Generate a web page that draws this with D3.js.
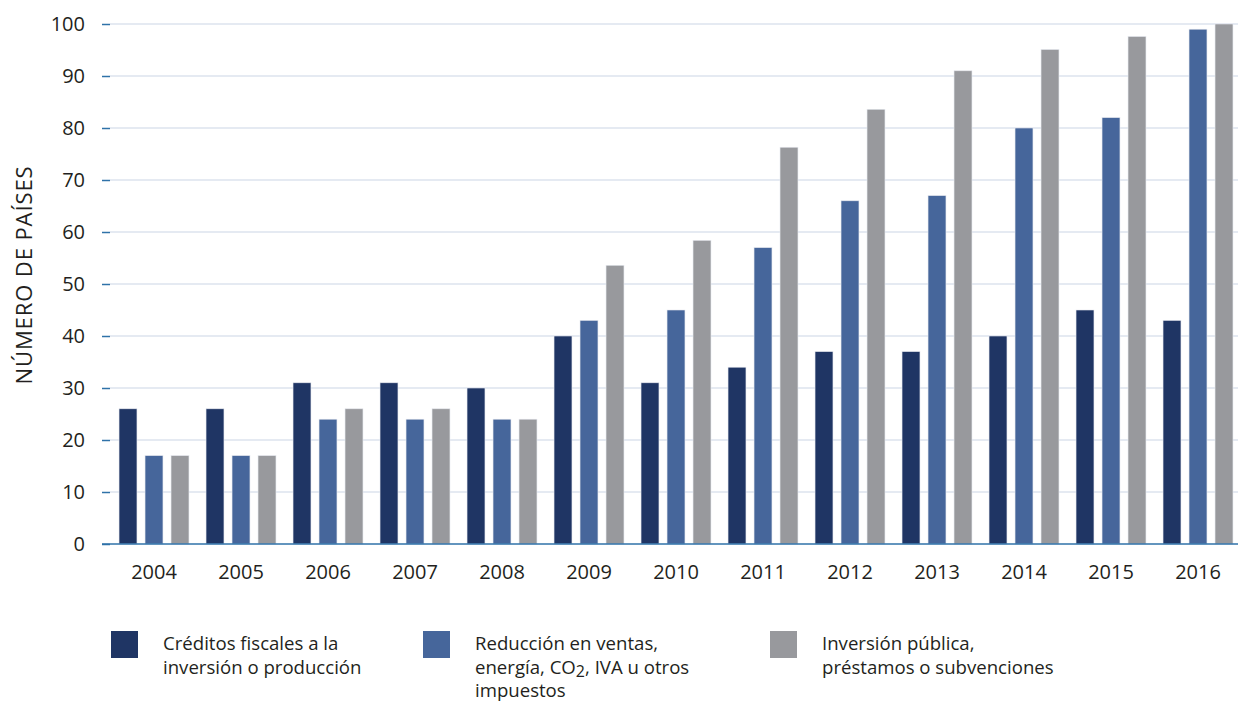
<!DOCTYPE html>
<html><head><meta charset="utf-8">
<script src="https://cdn.jsdelivr.net/npm/d3@7"></script>
<style>body{margin:0;background:#fff;} text{font-family:"Open Sans","Noto Sans",sans-serif;fill:#231f20;}</style>
</head><body><svg id="c" width="1238" height="704"></svg>
<script>
const years = ["2004","2005","2006","2007","2008","2009","2010","2011","2012","2013","2014","2015","2016"];
const creditos = [26,26,31,31,30,40,31,34,37,37,40,45,43];
const reduccion = [17,17,24,24,24,43,45,57,66,67,80,82,99];
const inversion = [17,17,26,26,24,53.6,58.4,76.3,83.6,91,95.1,97.6,100];
const yTicks = [0,10,20,30,40,50,60,70,80,90,100];
const seriesNames = ["Créditos fiscales a la inversión o producción","Reducción en ventas, energía, CO2, IVA u otros impuestos","Inversión pública, préstamos o subvenciones"];
const colors = ["#1f3564","#46669b","#98999d"];

const series = [creditos, reduccion, inversion];
const svg = d3.select("#c");
const x = d3.scaleBand().domain(years).range([110.5,1241.5]).padding(0);
const xs = d3.scaleBand().domain([0,1,2]).range([4.5,82.5]).paddingInner(0.31).paddingOuter(0.155);
const y = d3.scaleLinear().domain([0,100]).range([544,24]);

// gridlines
svg.append("g").selectAll("line").data(yTicks.filter(d=>d>0)).join("line")
  .attr("x1",110).attr("x2",1238).attr("y1",d=>y(d)).attr("y2",d=>y(d))
  .attr("stroke","#dde3ee").attr("stroke-width",1.3);

// y axis
const ya = svg.append("g").attr("transform","translate(110,0)")
  .call(d3.axisLeft(y).tickValues(yTicks).tickSize(8).tickPadding(17));
ya.select(".domain").remove();
ya.selectAll(".tick line").attr("stroke","#2f72a8").attr("stroke-width",1.5);
ya.selectAll(".tick text").attr("font-size",20).style("fill","#231f20");

// bars
const groups = svg.append("g").selectAll("g").data(years).join("g")
  .attr("transform",d=>`translate(${x(d)},0)`);
groups.selectAll("rect").data((d,i)=>series.map((s,k)=>({k,v:s[i]}))).join("rect")
  .attr("x",d=>xs(d.k)).attr("width",xs.bandwidth())
  .attr("y",d=>y(d.v)).attr("height",d=>y(0)-y(d.v))
  .attr("fill",d=>colors[d.k]).attr("stroke","#e6e8ee").attr("stroke-width",0.6);

// x axis
const xa = svg.append("g").attr("transform","translate(0,544)")
  .call(d3.axisBottom(x).tickSize(0).tickPadding(21));
xa.select(".domain").attr("stroke","#2f72a8").attr("stroke-width",1.5).attr("d","M102,0H1238");
xa.selectAll(".tick text").attr("font-size",20).style("fill","#231f20");

// y title
svg.append("text").attr("transform","translate(32,275) rotate(-90)")
  .attr("text-anchor","middle").attr("font-size",22).attr("letter-spacing",0.9)
  .text("NÚMERO DE PAÍSES");

// legend
const legX = [111,423,770];
const legLines = [
  [["Créditos fiscales a la"],["inversión o producción"]],
  [["Reducción en ventas,"],["energía, CO","2",", IVA u otros"],["impuestos"]],
  [["Inversión pública,"],["préstamos o subvenciones"]]
];
const leg = svg.append("g");
legX.forEach((lx,i)=>{
  leg.append("rect").attr("x",lx).attr("y",631).attr("width",27).attr("height",27).attr("fill",colors[i]);
  const t = leg.append("text").attr("x",lx+52).attr("y",650).attr("font-size",18.6);
  legLines[i].forEach((parts,j)=>{
    t.append("tspan").attr("x",lx+52).attr("y",650+j*23.5).text(parts[0]);
    if(parts.length>1){
      t.append("tspan").attr("dy",3).attr("font-size",16).text(parts[1]);
      t.append("tspan").attr("dy",-3).text(parts[2]);
    }
  });
});
</script></body></html>
